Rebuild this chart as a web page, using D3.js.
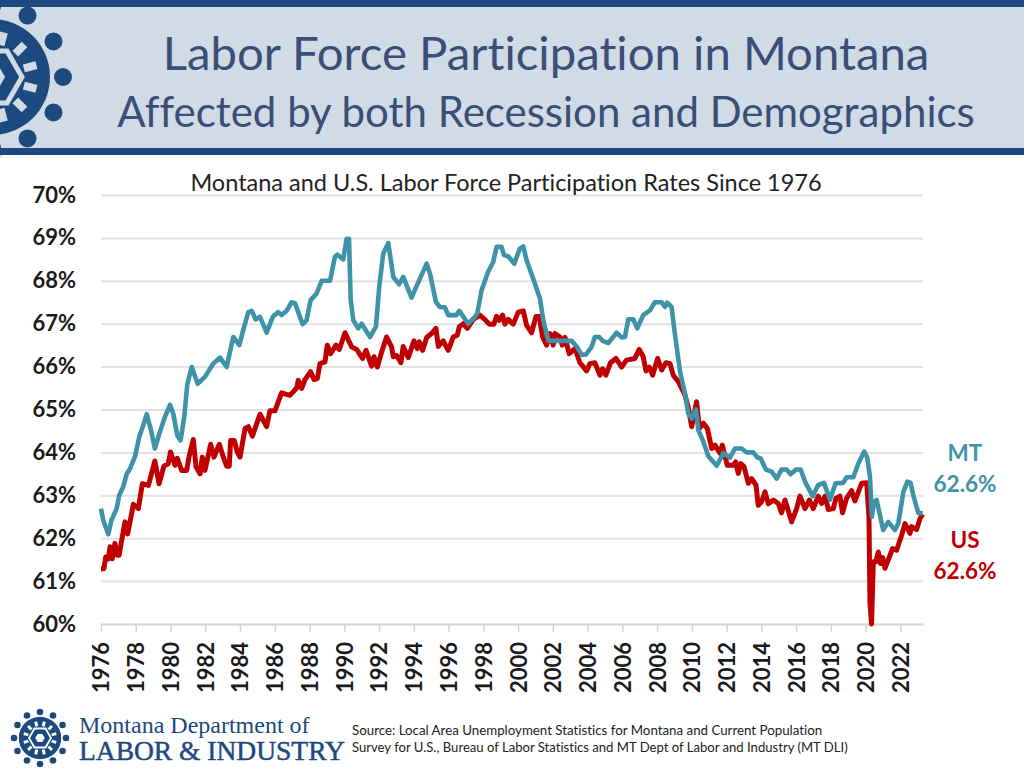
<!DOCTYPE html>
<html>
<head>
<meta charset="utf-8">
<script src="https://cdn.jsdelivr.net/npm/d3@7"></script>
<style>
html, body { margin: 0; padding: 0; background: #fff; }
svg { display: block; font-family: Lato, "Open Sans", sans-serif; font-variant-ligatures: none; }
</style>
</head>
<body>
<svg id="chart" width="1024" height="768"></svg>
<script>
const yearTicks = d3.range(1976, 2023, 2);
const pctTicks = d3.range(60, 71);

const mtDates = [1976,1976.13,1976.42,1976.6,1976.9,1977.05,1977.28,1977.48,1977.67,1977.96,1978.2,1978.4,1978.63,1978.86,1979.1,1979.36,1979.68,1979.97,1980.16,1980.39,1980.58,1980.79,1980.97,1981.22,1981.56,1981.98,1982.46,1982.85,1983.23,1983.61,1983.96,1984.23,1984.48,1984.67,1984.9,1985.15,1985.53,1985.9,1986.2,1986.39,1986.68,1986.97,1987.16,1987.6,1987.83,1988.06,1988.4,1988.7,1989.18,1989.46,1989.6,1989.94,1990.13,1990.27,1990.37,1990.52,1990.8,1991,1991.48,1991.82,1992.01,1992.24,1992.53,1992.82,1993.16,1993.39,1993.87,1994.26,1994.74,1994.93,1995.27,1995.5,1995.79,1995.98,1996.46,1996.62,1997.13,1997.52,1997.65,1997.9,1998.28,1998.57,1998.76,1999.05,1999.19,1999.43,1999.78,2000.1,2000.3,2000.49,2000.87,2001.26,2001.45,2001.74,2002.02,2003.08,2003.37,2003.65,2003.9,2004.23,2004.42,2004.67,2004.86,2005.19,2005.67,2005.96,2006.15,2006.34,2006.63,2006.86,2007.2,2007.59,2007.87,2008.26,2008.45,2008.58,2008.83,2009.02,2009.32,2009.6,2009.79,2009.99,2010.24,2010.37,2010.66,2010.95,2011.43,2011.81,2012.19,2012.48,2012.86,2013.15,2013.53,2013.77,2013.96,2014.26,2014.59,2014.88,2015.16,2015.45,2015.68,2015.99,2016.26,2016.51,2016.95,2017.27,2017.6,2017.95,2018.27,2018.71,2018.9,2019.29,2019.58,2019.92,2020.09,2020.25,2020.36,2020.48,2020.63,2021.01,2021.3,2021.69,2021.88,2022.17,2022.4,2022.59,2022.74,2023.03,2023.28];
const mtValues = [62.69,62.42,62.09,62.42,62.69,63,63.2,63.5,63.62,63.91,64.36,64.6,64.89,64.55,64.09,64.44,64.83,65.11,64.9,64.4,64.28,64.83,65.6,65.99,65.6,65.76,66.07,66.21,65.99,66.69,66.5,66.92,67.27,67.3,67.1,67.16,66.79,67.17,67.27,67.2,67.3,67.5,67.48,66.99,67.08,67.55,67.7,68,68,68.56,68.61,68.5,68.98,68.98,67.55,67.08,66.89,67,66.69,66.93,67.86,68.63,68.88,68.09,67.92,68.09,67.61,67.97,68.4,68.17,67.51,67.39,67.38,67.2,67.2,67.3,67,67.16,67.24,67.78,68.21,68.44,68.79,68.79,68.6,68.57,68.4,68.75,68.8,68.48,68.05,67.59,67.08,66.61,66.6,66.6,66.47,66.28,66.28,66.46,66.69,66.69,66.6,66.55,66.79,66.68,66.69,67.1,67.1,66.89,67.2,67.31,67.5,67.5,67.39,67.49,67.39,66.77,65.88,65.38,64.91,64.79,65,64.52,64.25,63.91,63.69,63.98,63.88,64.09,64.09,64,64,63.88,63.86,63.6,63.55,63.39,63.6,63.6,63.49,63.6,63.6,63.32,62.98,63.24,63.29,62.9,63.28,63.29,63.42,63.42,63.74,64.02,63.88,63.43,62.5,62.85,62.89,62.19,62.38,62.19,62.35,63.08,63.32,63.29,63,62.59,62.58];

const usDates = [1976,1976.17,1976.27,1976.42,1976.52,1976.65,1976.8,1976.94,1977.04,1977.19,1977.38,1977.53,1977.76,1977.86,1978.15,1978.38,1978.73,1979.1,1979.34,1979.62,1979.87,1980,1980.26,1980.39,1980.64,1980.93,1981.06,1981.31,1981.47,1981.7,1981.83,1981.98,1982.31,1982.5,1982.81,1983.04,1983.23,1983.38,1983.46,1983.67,1983.84,1984,1984.29,1984.48,1984.71,1985.15,1985.53,1985.72,1986.01,1986.39,1986.87,1987.26,1987.35,1987.55,1987.74,1988.06,1988.26,1988.45,1988.6,1988.89,1989.02,1989.21,1989.52,1989.71,1990.04,1990.42,1990.71,1991.05,1991.25,1991.57,1991.71,1991.9,1992.15,1992.43,1992.72,1992.82,1993.01,1993.26,1993.39,1993.68,1994.01,1994.2,1994.31,1994.51,1994.74,1995.02,1995.27,1995.41,1995.69,1995.98,1996.27,1996.5,1996.62,1996.85,1997.08,1997.42,1997.8,1998.03,1998.34,1998.61,1998.76,1998.92,1999.11,1999.24,1999.43,1999.72,2000.01,2000.3,2000.49,2000.78,2001.03,2001.22,2001.41,2001.64,2001.83,2002.02,2002.12,2002.41,2002.54,2002.7,2002.94,2003.27,2003.56,2003.94,2004.13,2004.42,2004.71,2004.86,2005.05,2005.32,2005.63,2005.96,2006.24,2006.72,2006.97,2007.2,2007.36,2007.55,2007.74,2008.03,2008.26,2008.51,2008.74,2008.93,2009.22,2009.6,2009.79,2009.99,2010.27,2010.43,2010.66,2010.89,2011.14,2011.33,2011.62,2011.75,2012.04,2012.38,2012.52,2012.67,2012.81,2013,2013.25,2013.44,2013.69,2013.82,2014.01,2014.21,2014.4,2014.69,2014.97,2015.16,2015.36,2015.74,2016.03,2016.22,2016.51,2016.76,2016.99,2017.27,2017.47,2017.66,2017.85,2018.14,2018.29,2018.52,2018.67,2018.9,2019.19,2019.38,2019.77,2020.06,2020.19,2020.25,2020.34,2020.44,2020.58,2020.73,2020.86,2020.98,2021.11,2021.4,2021.55,2021.78,2022.07,2022.26,2022.55,2022.64,2022.93,2023.13,2023.28];
const usValues = [61.29,61.29,61.56,61.52,61.8,61.52,61.88,61.6,61.6,61.95,62.38,62.1,62.57,62.79,62.69,63.27,63.23,63.8,63.27,63.68,63.74,64.01,63.7,63.86,63.58,63.58,63.89,64.3,63.66,63.5,63.89,63.58,64.19,63.89,64.19,63.89,63.68,63.68,64.28,64.28,64.01,63.89,64.56,64.6,64.38,64.89,64.6,64.97,64.97,65.39,65.33,65.5,65.68,65.49,65.7,65.88,65.7,65.72,66.07,66.11,66.5,66.3,66.5,66.4,66.79,66.46,66.4,66.19,66.38,66.01,66.23,65.99,66.34,66.69,66.46,66.23,66.26,66.09,66.47,66.21,66.6,66.42,66.58,66.38,66.68,66.77,66.89,66.47,66.6,66.38,66.69,66.73,66.93,67,66.89,67.1,67.2,67.12,66.99,66.99,67.17,67.08,67.2,66.99,67.1,66.99,67.27,67.3,66.96,66.79,67.17,67.17,66.69,66.5,66.77,66.5,66.77,66.69,66.5,66.68,66.3,66.42,66.09,65.9,66.07,66.09,65.8,65.95,65.8,66.09,66.19,65.99,66.15,66.19,66.4,66.23,65.9,65.99,65.8,66.19,65.92,66.09,66.07,65.8,65.65,65.34,65.06,64.6,65.18,64.56,64.68,64.56,64.09,64.17,63.98,64.17,63.7,63.7,63.78,63.51,63.74,63.67,63.28,63.39,63.24,62.77,62.85,63.08,62.8,62.89,62.81,62.59,62.89,62.38,62.69,62.98,62.69,62.89,62.69,62.98,62.81,62.98,62.67,62.69,62.93,62.98,62.59,62.93,63.11,62.87,63.28,63.29,62.5,60.48,60,61.45,61.45,61.68,61.41,61.55,61.3,61.6,61.76,61.72,62.07,62.34,62.11,62.27,62.2,62.46,62.56];

const navy = "#1c4a7e";
const titleBlue = "#3b4e78";
const teal = "#3f93a9";
const red = "#c00000";
const band = "#d1dbe5";

const svg = d3.select("#chart");

let polar = (r, a) => [r * Math.cos(a), r * Math.sin(a)];

let drawLogo = (cx, cy, r, gap) => {
    const g = svg.append("g").attr("transform", `translate(${cx},${cy}) scale(${r / 71})`);
    const steps = d3.range(12).map(i => i * Math.PI / 6);
    g.append("circle").attr("r", 58).attr("fill", navy);
    steps.forEach(a => {
        const [dx, dy] = polar(71, a);
        g.append("circle").attr("cx", dx).attr("cy", dy).attr("r", 13).attr("fill", gap);
        g.append("circle").attr("cx", dx).attr("cy", dy).attr("r", 9).attr("fill", navy);
        // light petals between the spokes
        const [x1, y1] = polar(33, a + Math.PI / 12);
        const [x2, y2] = polar(46, a + Math.PI / 12);
        g.append("line").attr("x1", x1).attr("y1", y1).attr("x2", x2).attr("y2", y2)
            .attr("stroke", gap).attr("stroke-width", 8);
    });
    const hexPath = rr => d3.line().curve(d3.curveLinearClosed)(d3.range(6).map(i => polar(rr, i * Math.PI / 3)));
    g.append("path").attr("d", hexPath(30)).attr("fill", navy).attr("stroke", gap).attr("stroke-width", 5);
    g.append("path").attr("d", hexPath(13)).attr("fill", gap);
};

// header band, bars go over the logo
svg.append("rect").attr("width", 1024).attr("height", 154).attr("fill", band);
drawLogo(-8, 77, 71, band);
drawLogo(40, 738, 26, "#ffffff");
svg.append("rect").attr("width", 1024).attr("height", 7).attr("fill", navy);
svg.append("rect").attr("y", 148).attr("width", 1024).attr("height", 7).attr("fill", navy);

svg.append("text").attr("x", 546).attr("y", 70).attr("text-anchor", "middle")
    .attr("font-size", 47.3).attr("fill", titleBlue).text("Labor Force Participation in Montana");
svg.append("text").attr("x", 546).attr("y", 127).attr("text-anchor", "middle")
    .attr("font-size", 42).attr("fill", titleBlue).text("Affected by both Recession and Demographics");

// scales
const x = d3.scaleLinear().domain([1976, 2023.3]).range([101, 923]);
const y = d3.scaleLinear().domain([60, 70]).range([624, 195]);

const yAxis = svg.append("g").attr("transform", "translate(101,0)")
    .call(d3.axisLeft(y).tickValues(pctTicks).tickSize(-822).tickFormat(d => d + "%"));
yAxis.select(".domain").remove();
yAxis.selectAll("line").attr("stroke", "#e2e2e2").attr("stroke-width", 2);
yAxis.selectAll("text").attr("x", -25).attr("font-family", "Lato, sans-serif")
    .attr("font-size", 22).attr("font-weight", 700).attr("fill", "#1a1a1a");

const xAxis = svg.append("g").attr("transform", "translate(0,624)")
    .call(d3.axisBottom(x).tickValues(yearTicks).tickSize(8).tickSizeOuter(0).tickFormat(d3.format("d")));
xAxis.select(".domain").attr("stroke", "#d4d4d4").attr("stroke-width", 1.5);
xAxis.selectAll("line").attr("stroke", "#d4d4d4").attr("stroke-width", 1.5);
xAxis.selectAll("text")
    .attr("transform", "rotate(-90)")
    .attr("x", -18).attr("y", 0).attr("dy", "0.36em")
    .attr("text-anchor", "end").attr("font-family", "Lato, sans-serif")
    .attr("font-size", 22).attr("font-weight", 700).attr("fill", "#1a1a1a");

svg.append("text").attr("x", 506).attr("y", 191).attr("text-anchor", "middle")
    .attr("font-size", 23.5).attr("fill", "#222").text("Montana and U.S. Labor Force Participation Rates Since 1976");

// lines, US under MT
const line = d3.line().x(d => x(d[0])).y(d => y(d[1])).curve(d3.curveLinear);
svg.append("path").attr("d", line(d3.zip(usDates, usValues)))
    .attr("fill", "none").attr("stroke", red).attr("stroke-width", 5).attr("stroke-linejoin", "round");
svg.append("path").attr("d", line(d3.zip(mtDates, mtValues)))
    .attr("fill", "none").attr("stroke", teal).attr("stroke-width", 4.6).attr("stroke-linejoin", "round");

// end labels
const endLabels = [["MT", 461, teal], ["62.6%", 492, teal], ["US", 548, red], ["62.6%", 579, red]];
svg.selectAll("text.end-label").data(endLabels).join("text")
    .attr("class", "end-label")
    .attr("x", 965).attr("y", d => d[1]).attr("text-anchor", "middle")
    .attr("font-size", 22.5).attr("font-weight", 700).attr("fill", d => d[2]).text(d => d[0]);

// footer
svg.append("text").attr("x", 79).attr("y", 733).attr("font-family", "Liberation Serif, serif")
    .attr("font-size", 24).attr("fill", navy).text("Montana Department of");
svg.append("text").attr("x", 79).attr("y", 760).attr("font-family", "Liberation Serif, serif")
    .attr("font-size", 27.5).attr("fill", navy).attr("stroke", navy).attr("stroke-width", 0.5).text("LABOR & INDUSTRY");
svg.append("text").attr("x", 352).attr("y", 735).attr("font-size", 13.3).attr("fill", "#222")
    .text("Source:  Local Area Unemployment Statistics for Montana and Current Population");
svg.append("text").attr("x", 352).attr("y", 752).attr("font-size", 13.1).attr("fill", "#222")
    .text("Survey for U.S., Bureau of Labor Statistics and MT Dept of Labor and Industry (MT DLI)");
</script>
</body>
</html>
